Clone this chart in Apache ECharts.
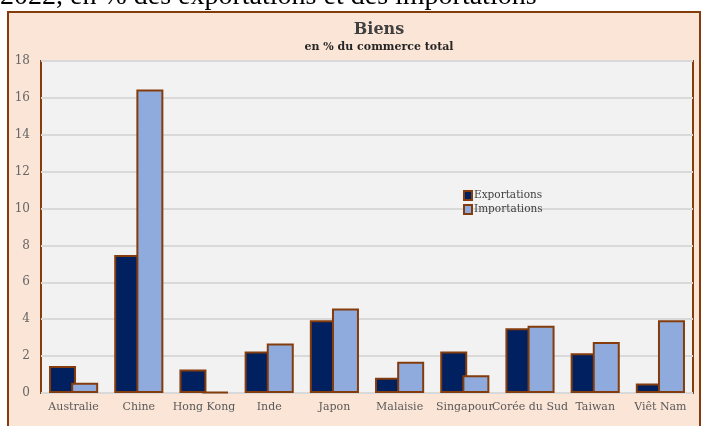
<!DOCTYPE html>
<html>
<head>
<meta charset="utf-8">
<script src="https://cdn.jsdelivr.net/npm/echarts@6/dist/echarts.min.js"></script>
<style>
  html, body { margin: 0; padding: 0; background: #fff; }
  #chart { width: 701px; height: 426px; }
</style>
</head>
<body>
<div id="chart"></div>
<script>
// pays (catégories)
const pays = ['Australie', 'Chine', 'Hong Kong', 'Inde', 'Japon', 'Malaisie', 'Singapour', 'Corée du Sud', 'Taiwan', 'Viêt Nam']
// en % du commerce total
const exportations = [1.47, 7.48, 1.27, 2.25, 3.95, 0.83, 2.25, 3.51, 2.15, 0.52]
const importations = [0.55, 16.45, 0.06, 2.68, 4.58, 1.7, 0.96, 3.64, 2.77, 3.95]
const yTicks = [0, 2, 4, 6, 8, 10, 12, 14, 16, 18]

const serif = 'DejaVu Serif'
const brun = '#843C0C'

const chart = echarts.init(document.getElementById('chart'))

const option = {
  backgroundColor: '#ffffff',
  animation: false,
  graphic: [
    {
      // cadre du graphique
      type: 'rect',
      z: -10,
      shape: { x: 8, y: 12, width: 692, height: 430 },
      style: { fill: '#FBE5D6', stroke: brun, lineWidth: 2 }
    },
    {
      // titre coupé en haut
      type: 'text',
      left: 0,
      top: -17,
      style: {
        text: '2022, en % des exportations et des importations',
        font: '28px "Liberation Serif"',
        fill: '#000'
      }
    },
    {
      type: 'text',
      x: 379,
      y: 22,
      style: {
        text: 'Biens',
        font: 'bold 16px "DejaVu Serif"',
        fill: '#404040',
        align: 'center'
      }
    },
    {
      type: 'text',
      x: 379,
      y: 42,
      style: {
        text: 'en % du commerce total',
        font: 'bold 11px "DejaVu Serif"',
        fill: '#262626',
        align: 'center'
      }
    }
  ],
  grid: {
    left: 41,
    right: 8,
    top: 61,
    bottom: 33,
    show: true,
    backgroundColor: '#F2F2F2',
    borderColor: brun,
    borderWidth: 2
  },
  legend: {
    left: 458,
    top: 185,
    orient: 'vertical',
    icon: 'rect',
    itemWidth: 8,
    itemHeight: 9,
    itemGap: 3,
    textStyle: {
      fontFamily: serif,
      fontSize: 10.5,
      color: '#404040',
      padding: [0, 0, 0, -3]
    }
  },
  xAxis: {
    type: 'category',
    data: pays,
    axisLine: { show: false },
    axisTick: { show: false },
    axisLabel: {
      interval: 0,
      fontFamily: serif,
      fontSize: 11,
      color: '#595959',
      margin: 9
    }
  },
  yAxis: {
    type: 'value',
    min: 0,
    max: 18,
    interval: 2,
    axisLine: { show: false },
    axisTick: { show: false },
    axisLabel: {
      fontFamily: serif,
      fontSize: 12,
      color: '#666666',
      margin: 11,
      formatter: (v) => (yTicks.includes(v) ? String(v) : '')
    },
    splitLine: {
      lineStyle: { color: '#D9D9D9', width: 2 }
    }
  },
  series: [
    {
      name: 'Exportations',
      type: 'bar',
      data: exportations,
      barWidth: 27,
      barGap: '-18%',
      itemStyle: {
        color: '#002060',
        borderColor: brun,
        borderWidth: 2
      }
    },
    {
      name: 'Importations',
      type: 'bar',
      data: importations,
      barWidth: 27,
      itemStyle: {
        color: '#8FAADC',
        borderColor: brun,
        borderWidth: 2
      }
    }
  ]
}

chart.setOption(option)
</script>
</body>
</html>
